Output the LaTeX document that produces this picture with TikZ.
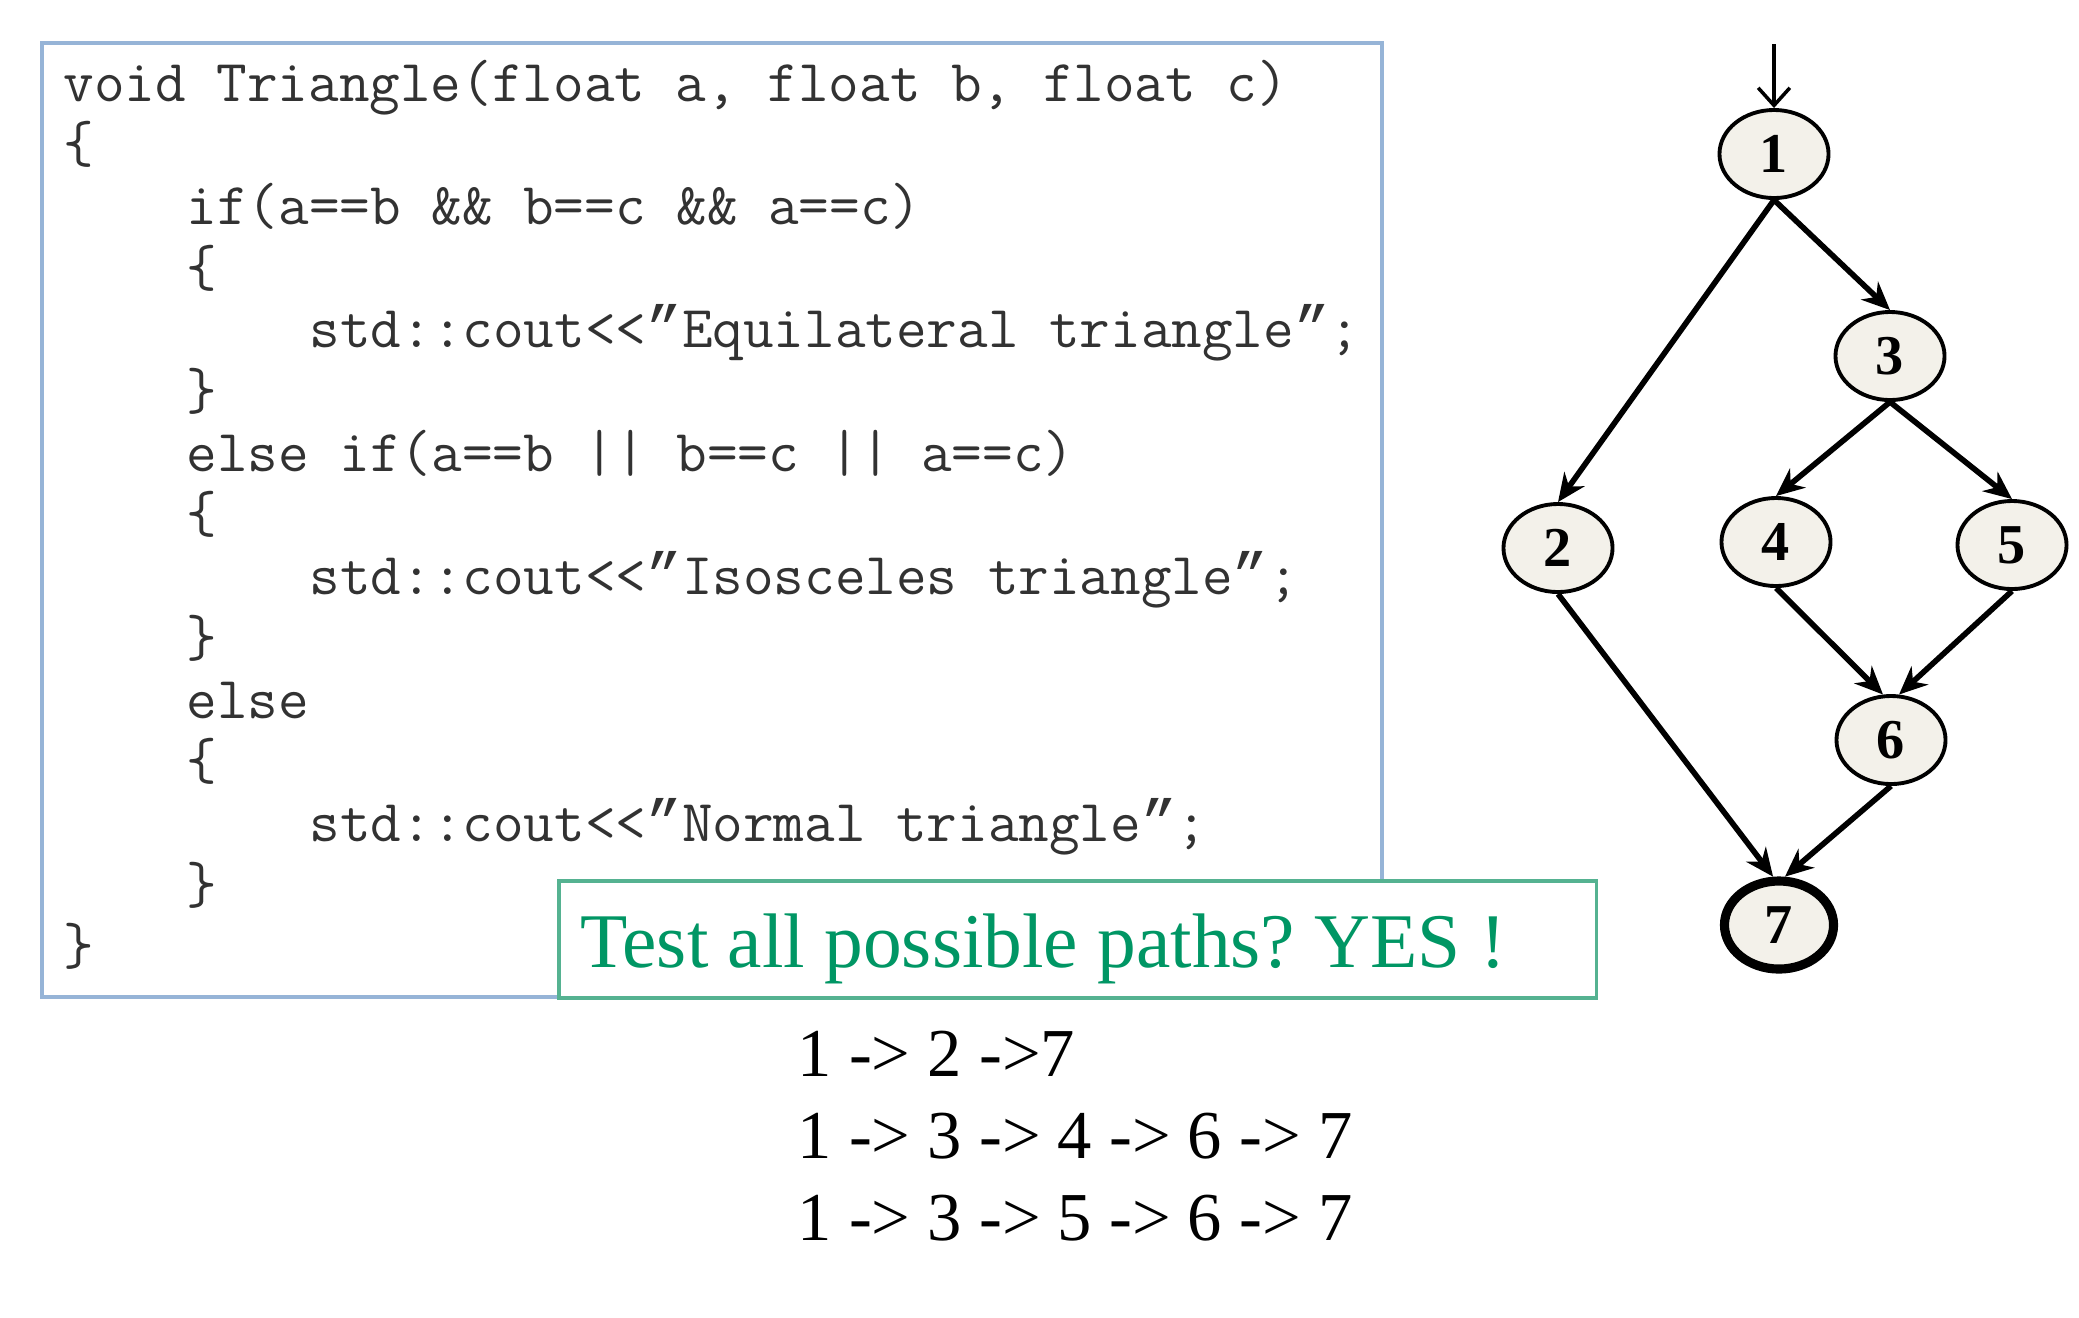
\documentclass[tikz,border=0pt]{standalone}
\usepackage{fontspec}
\setmainfont{Liberation Serif}
\newfontfamily\quotefont{Liberation Mono}
\usepackage{tikz}
\usetikzlibrary{shapes.geometric, arrows.meta, calc}
\definecolor{colFrame}{RGB}{150, 180, 215}
\definecolor{colCode}{RGB}{50, 50, 50}
\definecolor{colAsk}{RGB}{85, 178, 145}
\definecolor{colAskText}{RGB}{0, 150, 100}
\definecolor{colNode}{RGB}{243, 241, 234}
\newcommand{\codeq}{{\quotefont ”}}
\frenchspacing

\begin{document}
\begin{tikzpicture}[x=0.01cm, y=-0.01cm,
    codeline/.style={anchor=base west, inner sep=0pt, text=colCode, font=\ttfamily\fontsize{16.9}{19}\selectfont},
    askbox/.style={draw=colAsk, line width=1.1pt, fill=white, inner sep=0pt},
    asktext/.style={anchor=base west, inner sep=0pt, text=colAskText, font=\fontsize{22}{26}\selectfont},
    pathline/.style={anchor=base west, inner sep=0pt, font=\fontsize{19.5}{24}\selectfont},
    cfgnode/.style={ellipse, draw, line width=1.1pt, fill=colNode, minimum width=1.09cm, minimum height=0.88cm, inner sep=0pt, font=\bfseries\fontsize{16}{16}\selectfont},
    flow/.style={-{Stealth[length=8pt,width=7pt]}, line width=1.6pt}]
    \useasboundingbox (0,0) rectangle (2079,1317);

    % --- Code ---
    \draw[colFrame, line width=1pt] (42,43) rectangle (1382,997);
    \foreach \i/\lvl/\txt in {
        0/0/{void Triangle(float a, float b, float c)},
        1/0/\{,
        2/1/{if(a==b \&\& b==c \&\& a==c)},
        3/1/\{,
        4/2/{std::cout<<\codeq Equilateral triangle\codeq;},
        5/1/\},
        6/1/{else if(a==b || b==c || a==c)},
        7/1/\{,
        8/2/{std::cout<<\codeq Isosceles triangle\codeq;},
        9/1/\},
        10/1/else,
        11/1/\{,
        12/2/{std::cout<<\codeq Normal triangle\codeq;},
        13/1/\},
        14/0/\}} {
        \node[codeline] (code\i) at (63+123*\lvl, 101+61.7*\i) {\txt};
    }

    % --- Question box ---
    \node[askbox, anchor=north west, minimum width=10.37cm, minimum height=1.17cm] (ask) at (557,879) {};
    \node[asktext] (askline) at (580,967) {Test all possible paths? YES !};

    % --- Paths ---
    \node[pathline] (path1) at (797,1076) {1 -> 2 ->7};
    \node[pathline] (path2) at (797,1158) {1 -> 3 -> 4 -> 6 -> 7};
    \node[pathline] (path3) at (797,1240) {1 -> 3 -> 5 -> 6 -> 7};

    % --- Flow graph ---
    \foreach \n/\x/\y in {1/1774/154, 2/1558/548, 3/1890/356, 4/1776/542, 5/2012/545, 6/1891/740} {
        \node[cfgnode] (n\n) at (\x,\y) {\n};
    }
    \node[cfgnode, line width=2.6pt] (n7) at (1779,925) {7}; % exit node

    \coordinate (entry) at (1774,44);
    \draw[-{Straight Barb[length=5pt,width=9pt]}, line width=1pt] (entry) -- (n1);

    \foreach \a/\b/\t in {1/2/north, 1/3/north, 3/4/north, 3/5/north, 4/6/100, 5/6/80, 2/7/97, 6/7/83} {
        \draw[flow] (n\a.south) -- (n\b.\t);
    }
\end{tikzpicture}
\end{document}
